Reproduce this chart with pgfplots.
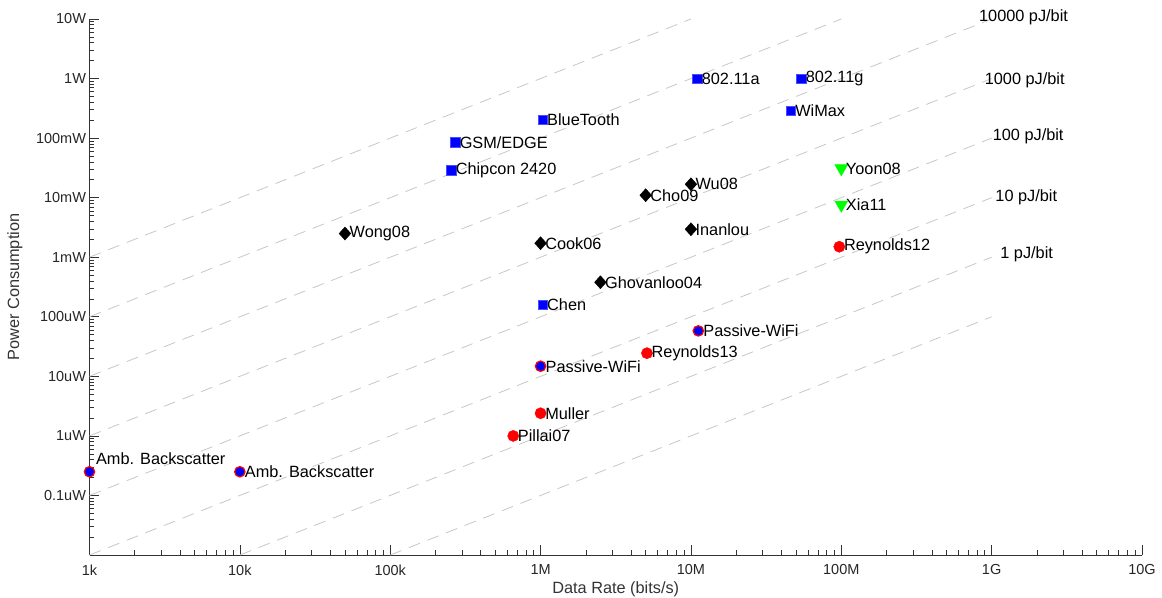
\documentclass[border=0pt]{standalone}
\usepackage{pgfplots}
\pgfplotsset{compat=1.18}
\usepackage{pgfplotstable}
\usepackage{fontspec}
\setmainfont{Liberation Sans}
\usetikzlibrary{calc}

\pgfplotstableread{
x y label
11e6 1 802.11a
54e6 1 802.11g
46e6 0.29 WiMax
1.03e6 0.205 BlueTooth
270e3 0.085 GSM/EDGE
254e3 0.029 {Chipcon 2420}
1.03e6 1.6e-4 Chen
}\squares

\pgfplotstableread{
x y label
50e3 2.5e-3 Wong08
1.0e6 1.72e-3 Cook06
5.0e6 0.011 Cho09
10e6 0.0168 Wu08
10e6 2.95e-3 Inanlou
2.5e6 3.8e-4 Ghovanloo04
}\diamonds

\pgfplotstableread{
x y label
100e6 0.031 Yoon08
100e6 7.6e-3 Xia11
}\triangles

\pgfplotstableread{
x y label
97e6 1.5e-3 Reynolds12
5.1e6 2.45e-5 Reynolds13
1.0e6 2.4e-6 Muller
658e3 1.0e-6 Pillai07
}\reds

\pgfplotstableread{
x y label
11.2e6 5.8e-5 Passive-WiFi
1.0e6 1.48e-5 Passive-WiFi
10e3 2.5e-7 {Amb. Backscatter}
}\passive

\pgfplotstableread{
x y label
1e3 2.5e-7 {Amb. Backscatter}
}\ambone

\begin{document}
\begin{tikzpicture}
\begin{axis}[
  xmode=log, ymode=log,
  scale only axis,
  width=1052.5pt, height=536pt,
  xmin=1e3, xmax=1e10, ymin=1e-8, ymax=10,
  axis lines=left,
  axis line style={-, black!80, line width=0.8pt},
  tick align=inside,
  major tick length=10pt,
  minor tick length=5pt,
  every tick/.style={black!80, line width=0.6pt},
  xtick={1e3,1e4,1e5,1e6,1e7,1e8,1e9,1e10},
  xticklabels={1k,10k,100k,1M,10M,100M,1G,10G},
  ytick={1e-7,1e-6,1e-5,1e-4,1e-3,1e-2,1e-1,1,10},
  yticklabels={0.1uW,1uW,10uW,100uW,1mW,10mW,100mW,1W,10W},
  minor xtick={2e3,3e3,4e3,5e3,6e3,7e3,8e3,9e3,2e4,3e4,4e4,5e4,6e4,7e4,8e4,9e4,2e5,3e5,4e5,5e5,6e5,7e5,8e5,9e5,2e6,3e6,4e6,5e6,6e6,7e6,8e6,9e6,2e7,3e7,4e7,5e7,6e7,7e7,8e7,9e7,2e8,3e8,4e8,5e8,6e8,7e8,8e8,9e8,2e9,3e9,4e9,5e9,6e9,7e9,8e9,9e9},
  minor ytick={2e-8,3e-8,4e-8,5e-8,6e-8,7e-8,8e-8,9e-8,2e-7,3e-7,4e-7,5e-7,6e-7,7e-7,8e-7,9e-7,2e-6,3e-6,4e-6,5e-6,6e-6,7e-6,8e-6,9e-6,2e-5,3e-5,4e-5,5e-5,6e-5,7e-5,8e-5,9e-5,2e-4,3e-4,4e-4,5e-4,6e-4,7e-4,8e-4,9e-4,2e-3,3e-3,4e-3,5e-3,6e-3,7e-3,8e-3,9e-3,2e-2,3e-2,4e-2,5e-2,6e-2,7e-2,8e-2,9e-2,2e-1,3e-1,4e-1,5e-1,6e-1,7e-1,8e-1,9e-1,2,3,4,5,6,7,8,9},
  tick label style={font=\fontsize{14.5}{16}\selectfont, text=black!85},
  xticklabel style={yshift=-6pt},
  xlabel={Data Rate (bits/s)},
  ylabel={Power Consumption},
  label style={font=\fontsize{16.3}{18}\selectfont, text=black!80},
  xlabel style={yshift=0pt},
  ylabel style={at={(axis description cs:-0.0708,0.5)}, anchor=center},
  clip=false,
  every node near coord/.append style={anchor=west, font=\fontsize{16.3}{18}\selectfont, text=black, inner sep=1pt, xshift=3.5pt},
]
\coordinate (O) at (rel axis cs:0,0);
\coordinate (T) at (rel axis cs:1,1);

% energy-per-bit reference lines
\pgfplotsset{refline/.style={draw=black!22, line width=0.8pt, dash pattern=on 12pt off 8pt, mark=none, forget plot}}
\addplot[refline] coordinates {(1e5,1e-8) (1e9,1e-4)};
\addplot[refline] coordinates {(1e4,1e-8) (1e9,1e-3)};
\addplot[refline] coordinates {(1e3,1e-8) (1e9,1e-2)};
\addplot[refline] coordinates {(1e3,1e-7) (1e9,1e-1)};
\addplot[refline] coordinates {(1e3,1e-6) (1e9,1)};
\addplot[refline] coordinates {(1e3,1e-5) (1e9,10)};
\addplot[refline] coordinates {(1e3,1e-4) (1e8,10)};
\addplot[refline] coordinates {(1e3,1e-3) (1e7,10)};

\node[font=\fontsize{16.3}{18}\selectfont] at (axis cs:1.63e9,10.6) {10000 pJ/bit};
\node[font=\fontsize{16.3}{18}\selectfont] at (axis cs:1.66e9,0.93) {1000 pJ/bit};
\node[font=\fontsize{16.3}{18}\selectfont] at (axis cs:1.75e9,0.107) {100 pJ/bit};
\node[font=\fontsize{16.3}{18}\selectfont] at (axis cs:1.70e9,0.0102) {10 pJ/bit};
\node[font=\fontsize{16.3}{18}\selectfont] at (axis cs:1.71e9,1.12e-3) {1 pJ/bit};

\addplot[only marks, mark=square*, mark size=4.8pt, mark options={fill=blue, draw=blue!70}, nodes near coords, point meta=explicit symbolic] table[x=x, y=y, meta=label] {\squares};
\addplot[only marks, mark=diamond*, mark size=6.5pt, mark options={fill=black, draw=black, xscale=1.2}, nodes near coords, point meta=explicit symbolic] table[x=x, y=y, meta=label] {\diamonds};
\addplot[only marks, mark=triangle*, mark size=7.5pt, mark options={fill=green, draw=green, rotate=180}, nodes near coords, point meta=explicit symbolic] table[x=x, y=y, meta=label] {\triangles};
\addplot[only marks, mark=*, mark size=5.6pt, mark options={fill=red, draw=red}, nodes near coords, point meta=explicit symbolic] table[x=x, y=y, meta=label] {\reds};
\addplot[only marks, mark=*, mark size=5.2pt, mark options={fill=blue, draw=red, line width=1.2pt}, nodes near coords, point meta=explicit symbolic] table[x=x, y=y, meta=label] {\passive};
\addplot[only marks, mark=*, mark size=5.2pt, mark options={fill=blue, draw=red, line width=1.2pt}, nodes near coords, point meta=explicit symbolic, every node near coord/.append style={anchor=south west, xshift=1.5pt, yshift=5pt}] table[x=x, y=y, meta=label] {\ambone};
\end{axis}
\pgfresetboundingbox
\path ($(O)+(-89.5pt,-42pt)$) rectangle ($(T)+(20pt,19pt)$);
\end{tikzpicture}
\end{document}
